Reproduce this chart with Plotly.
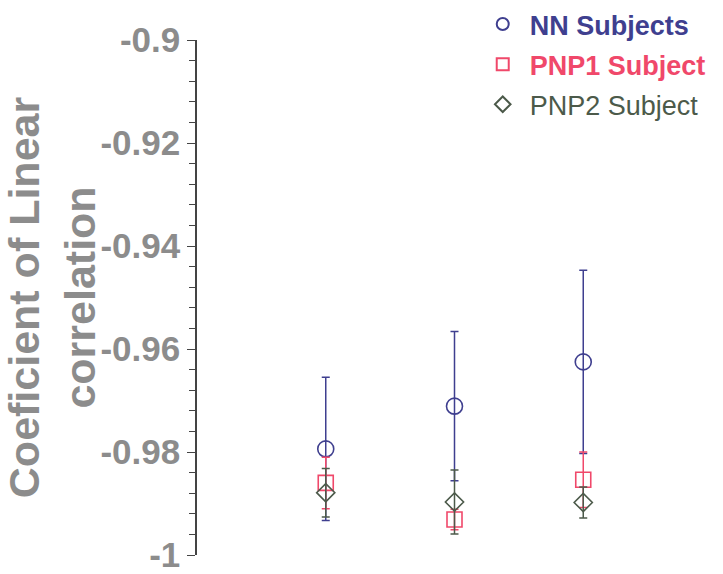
import plotly.graph_objects as go

groups = [1, 2, 3]

series_names = ["NN Subjects", "PNP1 Subject", "PNP2 Subject"]

nn_mean = [-0.9794, -0.9711, -0.9625]
nn_err = [0.0139, 0.0145, 0.0178]

pnp1_mean = [-0.9860, -0.9931, -0.9854]
pnp1_err = [0.0050, 0.0020, 0.0054]

pnp2_mean = [-0.9879, -0.9897, -0.9898]
pnp2_err = [0.0047, 0.0062, 0.0030]

y_ticks = [-1, -0.98, -0.96, -0.94, -0.92, -0.9]
y_ticktext = ["-1", "-0.98", "-0.96", "-0.94", "-0.92", "-0.9"]

c_nn = "#3f3f8f"
c_p1 = "#f0486a"
c_p2 = "#4c5a4a"
c_axis_text = "#8c8c8c"

fig = go.Figure()

def add(name, y, err, color, symbol, size, label_html):
    fig.add_trace(go.Scatter(
        x=groups, y=y, mode="markers", name=label_html,
        legendgroup=name,
        marker=dict(symbol=symbol, size=size, color=color,
                    line=dict(color=color, width=1.6)),
        error_y=dict(type="data", array=err, visible=True,
                     color=color, thickness=1.5, width=4),
    ))

add(series_names[0], nn_mean, nn_err, c_nn, "circle-open", 16,
    f"<b><span style='color:{c_nn}'>{series_names[0]}</span></b>")
add(series_names[1], pnp1_mean, pnp1_err, c_p1, "square-open", 15,
    f"<b><span style='color:{c_p1}'>{series_names[1]}</span></b>")
add(series_names[2], pnp2_mean, pnp2_err, c_p2, "diamond-open", 14,
    f"<span style='color:{c_p2}'>{series_names[2]}</span>")

fig.update_layout(
    width=723, height=574,
    margin=dict(l=197, r=11, t=40, b=19, autoexpand=False),
    paper_bgcolor="white", plot_bgcolor="white",
    showlegend=True,
    legend=dict(
        xref="container", yref="container",
        x=0.658, y=1.0, xanchor="left", yanchor="top",
        font=dict(family="Liberation Sans, Arial", size=27),
        itemsizing="constant", bgcolor="rgba(0,0,0,0)",
        tracegroupgap=2, itemwidth=44,
    ),
    xaxis=dict(range=[0, 4.0], visible=False),
    yaxis=dict(
        range=[-1, -0.9],
        tickvals=y_ticks, ticktext=y_ticktext,
        ticks="outside", ticklen=8, tickwidth=1.3, tickcolor="#444",
        showline=True, linecolor="#444", linewidth=1.5,
        showgrid=False, zeroline=False,
        ticklabeloverflow="allow",
        tickfont=dict(family="Liberation Sans, Arial", size=35, color=c_axis_text, weight="bold"),
        minor=dict(dtick=0.004, ticks="outside", ticklen=6, tickwidth=1.2, tickcolor="#444", showgrid=False),
        title=dict(text="Coeficient of Linear<br>correlation",
                   font=dict(family="Liberation Sans, Arial", size=43, color=c_axis_text, weight="bold"),
                   standoff=2),
    ),
)

fig.write_html("out.html")
